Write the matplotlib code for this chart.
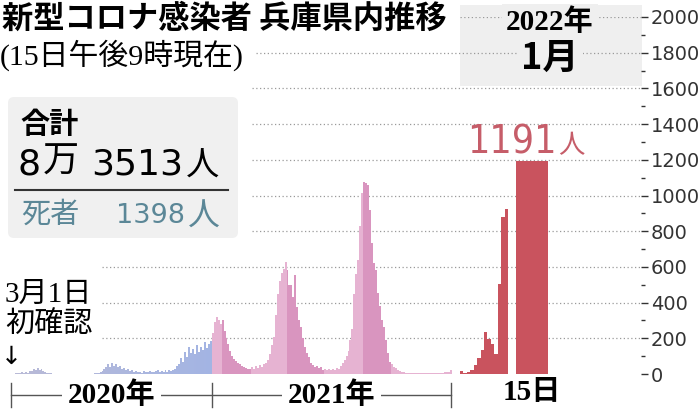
import pandas as pd
import matplotlib
matplotlib.use('Agg')
import matplotlib.pyplot as plt
from matplotlib.colors import LinearSegmentedColormap
from matplotlib.patches import FancyBboxPatch, Rectangle
from matplotlib.transforms import IdentityTransform, blended_transform_factory

plt.rcParams['font.family'] = ['Noto Sans CJK JP', 'DejaVu Sans']

# 新規感染者（3日ごと） 2020/3/1〜
cases_2020 = [
    0, 2, 4, 7, 3, 9, 6, 12, 8, 15,                      # 3月
    18, 26, 20, 34, 24, 28, 16, 10, 7, 4,                 # 4月
    3, 1, 2, 0, 1, 0, 0, 1, 0, 0, 0,                      # 5月
    0, 0, 1, 0, 0, 1, 0, 1, 0, 2,                         # 6月
    2, 4, 3, 8, 12, 18, 26, 40, 55, 38,                   # 7月
    62, 45, 56, 38, 44, 30, 34, 22, 26, 18,               # 8月
    20, 12, 16, 10, 14, 8, 15, 10, 13, 17,                # 9月
    12, 9, 16, 20, 11, 18, 12, 22, 14, 20, 15,            # 10月
    24, 30, 44, 58, 92, 70, 125, 98, 150, 115,            # 11月
    140, 110, 165, 125, 150, 135, 178, 145, 168, 185,     # 12月
]
cases_2021 = [
    230, 290, 322, 300, 280, 300, 240, 200, 170, 130,     # 1月
    100, 85, 75, 60, 55, 45, 40, 35, 30, 28,              # 2月
    38, 26, 45, 32, 50, 40, 55, 62, 80, 110,              # 3月
    160, 209, 330, 450, 520, 564, 590, 628, 583, 500,     # 4月
    500, 430, 555, 377, 300, 265, 200, 153, 120, 97,      # 5月
    60, 52, 41, 45, 35, 38, 25, 30, 22, 26,               # 6月
    20, 28, 24, 35, 30, 45, 60, 78, 100, 130, 190,        # 7月
    250, 450, 560, 640, 830, 1012, 1077, 1068, 1059, 919, # 8月
    732, 620, 583, 452, 380, 302, 265, 190, 116, 69,      # 9月
    58, 40, 32, 22, 17, 12, 10, 8, 7, 5,                  # 10月
    4, 6, 3, 5, 7, 4, 6, 3, 5, 6,                         # 11月
    4, 6, 5, 7, 5, 8, 6, 9, 10, 14, 20,                   # 12月
]
# 2022年1月（日別）
jan_days = list(range(1, 16))
jan_cases = [15, 3, 9, 24, 50, 88, 134, 238, 196, 168, 114, 505, 880, 922, 1191]

emergency = [('2021-01-14', '2021-02-28'), ('2021-04-25', '2021-06-20'),
             ('2021-08-20', '2021-09-30')]
total_cases = 83513
deaths = 1398
y_ticks = list(range(0, 2001, 200))

start = pd.Timestamp('2020-03-01')
cases = cases_2020 + cases_2021
dates = pd.date_range(start, periods=len(cases), freq='3D')
xs = (dates - start).days.values

cmap2020 = LinearSegmentedColormap.from_list('c2020', ['#b9bad6', '#a3b4e3'])
colors = []
for i, d in enumerate(dates):
    if d.year == 2020:
        colors.append(cmap2020(i / (len(cases_2020) - 1)))
    elif any(pd.Timestamp(a) <= d <= pd.Timestamp(b) for a, b in emergency):
        colors.append('#d995bf')
    else:
        colors.append('#e6b3d2')

PX = 0.656  # 1日あたりのピクセル
fig = plt.figure(figsize=(7, 4.09), dpi=100)
ax = fig.add_axes([11/700, 35/409, 630/700, 357/409])
ax.set_xlim(0, 630/PX)
ax.set_ylim(0, 2000)
ax.set_facecolor('none')

ax.bar(xs, cases, width=3, align='edge', color=colors, linewidth=0, zorder=2)

# 1月は拡大表示、15日は幅広
jan_left = [(449 + (d - 1)*3.43)/PX for d in jan_days[:-1]] + [505/PX]
jan_width = [3.43/PX]*(len(jan_days) - 1) + [32/PX]
ax.bar(jan_left, jan_cases, width=jan_width, align='edge', color='#c9535e', linewidth=0, zorder=2)

# 点線グリッド
grid_start = {200: 102, 400: 102, 600: 102, 1800: 256, 2000: 460}
for yv in y_ticks[1:]:
    s = grid_start.get(yv, 252)
    ax.axhline(yv, xmin=(s - 11)/630, xmax=1, color='#9a9a9a', lw=0.9, ls=(0, (1, 2)), zorder=1)

for sp in ax.spines.values():
    sp.set_visible(False)
ax.set_xticks([])
ax.yaxis.tick_right()
ax.set_yticks(y_ticks)
ax.set_yticks(range(100, 2000, 200), minor=True)
ax.tick_params(axis='y', which='major', length=5, width=1, color='#333', pad=2,
               labelsize=14, labelcolor='#333', labelfontfamily='DejaVu Sans')
ax.tick_params(axis='y', which='minor', length=3, width=1, color='#333')

# 2022年1月の枠
ax.add_patch(Rectangle((460, 409 - 86), 182, 81, transform=IdentityTransform(),
                       facecolor='#efefef', edgecolor='none', zorder=0.5, clip_on=False))


def ftext(px, py, s, **kw):
    return fig.text(px/700, 1 - py/409, s, **kw)


serif = ['Liberation Serif', 'Noto Sans CJK JP']
ftext(2, 19, '新型コロナ感染者 兵庫県内推移', fontsize=22.5, fontweight='bold', va='center')
ftext(0, 55, '(15日午後9時現在)', fontsize=21.5, family=serif, va='center')
ftext(550, 22, '2022年', fontsize=21, fontweight='bold', family=serif, ha='center', va='center',
      bbox=dict(fc='#efefef', ec='none', pad=3))
ftext(550, 58, '1月', fontsize=26, fontweight='bold', ha='center', va='center',
      bbox=dict(fc='#efefef', ec='none', pad=3))

# 合計ボックス
fig.add_artist(FancyBboxPatch((8, 409 - 238), 230, 141, boxstyle='round,pad=0,rounding_size=6',
                              transform=IdentityTransform(), facecolor='#f0f0f0', edgecolor='none'))
ftext(20, 124, '合計', fontsize=21, fontweight='bold', va='center')
ftext(18, 164, str(total_cases // 10000), fontsize=26, family='DejaVu Sans', va='center')
ftext(43, 162, '万', fontsize=26, va='center')
ftext(91, 164, f'{total_cases % 10000}', fontsize=26, family='DejaVu Sans', va='center')
ftext(186, 166, '人', fontsize=24, va='center')
fig.add_artist(plt.Line2D([15/700, 228/700], [1 - 190/409]*2, color='#333', lw=1.5))
ftext(21, 215, '死者', fontsize=21, color='#5b8797', va='center')
ftext(116, 216, str(deaths), fontsize=19.5, family='DejaVu Sans', color='#5b8797', va='center')
ftext(188, 217, '人', fontsize=23, color='#5b8797', va='center')

# 初確認
ftext(5, 295, '3月1日', fontsize=21, family=serif, va='center')
ftext(5, 324, '初確認', fontsize=21, family=serif, va='center')
ftext(11, 357, '↓', fontsize=18, family='DejaVu Sans', ha='center', va='center')

# 年の目盛り
bt = blended_transform_factory(ax.transData, fig.transFigure)
edges = [(pd.Timestamp(s) - start).days for s in ['2020-03-01', '2021-01-01', '2022-01-01']]
ax.plot([edges[0], edges[-1]], [1 - 395/409]*2, transform=bt, color='#555', lw=1, clip_on=False)
for e in edges:
    ax.plot([e, e], [1 - 383/409, 1 - 407/409], transform=bt, color='#555', lw=1, clip_on=False)
for lbl, a, b in zip(['2020年', '2021年'], edges[:-1], edges[1:]):
    ax.text((a + b)/2, 1 - 395/409, lbl, transform=bt, ha='center', va='center', fontsize=21,
            fontweight='bold', family=serif, bbox=dict(fc='white', ec='none', pad=4), zorder=5)

c15 = jan_left[-1] + jan_width[-1]/2
ax.text(c15, 1 - 393/409, f'{jan_days[-1]}日', transform=bt, ha='center', va='center',
        fontsize=21, fontweight='bold', family=serif)
ax.annotate(f'{jan_cases[-1]}', xy=(c15, jan_cases[-1]), xytext=(25, 8), textcoords='offset pixels',
            ha='right', va='baseline', fontsize=28, color='#c65d69',
            family='DejaVu Sans', fontstretch='condensed')
ax.annotate('人', xy=(c15, jan_cases[-1]), xytext=(26, 8), textcoords='offset pixels',
            ha='left', va='baseline', fontsize=19, color='#c65d69')

fig.savefig('out.png', dpi=100)
